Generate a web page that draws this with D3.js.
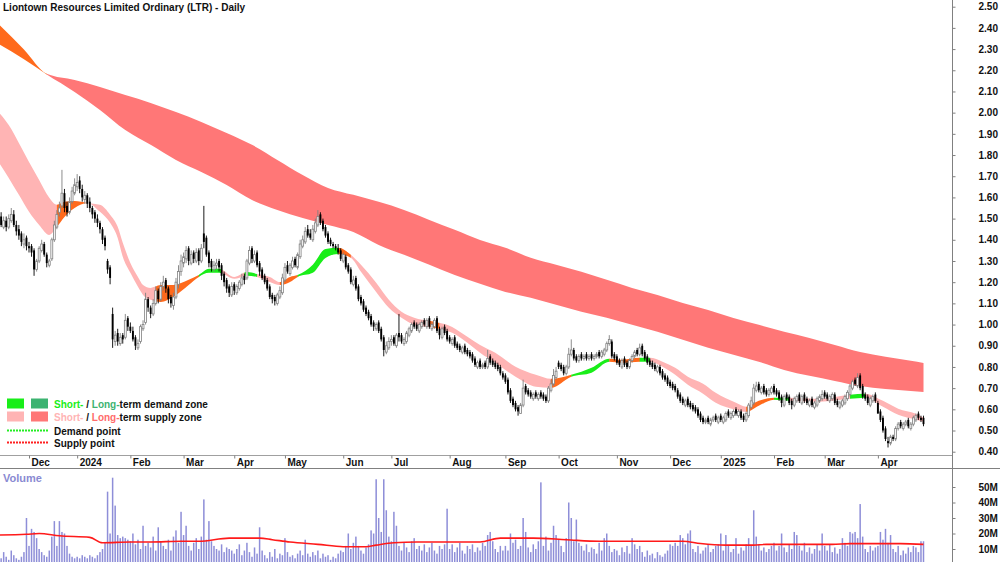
<!DOCTYPE html>
<html>
<head>
<meta charset="utf-8">
<script src="https://cdn.jsdelivr.net/npm/d3@7"></script>
<style>
  body { margin: 0; background: #fff; }
  svg { display: block; font-family: "Liberation Sans", Arial, sans-serif; }
</style>
</head>
<body>
<div id="chart"></div>
<script>
// ---- data ----------------------------------------------------------------
const title = "Liontown Resources Limited Ordinary (LTR) - Daily";
const startDate = "2023-11-15";
const holidays = [
  "2023-12-25", "2023-12-26", "2024-01-01", "2024-01-26", "2024-03-29", "2024-04-01",
  "2024-04-25", "2024-06-10", "2024-12-25", "2024-12-26", "2025-01-01", "2025-01-27",
  "2025-04-18", "2025-04-21", "2025-04-25"
];

// one line per month, Nov 2023 .. Apr 2025
const opens = [
  1.53,1.51,1.46,1.49,1.46,1.49,1.52,1.47,1.45,1.43,1.38,1.41,
  1.37,1.37,1.35,1.26,1.30,1.35,1.38,1.33,1.28,1.31,1.40,1.46,1.53,1.56,1.62,1.56,1.53,1.58,1.62,
  1.65,1.68,1.64,1.59,1.61,1.58,1.55,1.53,1.50,1.48,1.45,1.41,1.30,1.27,1.05,0.92,0.96,0.91,0.95,0.94,1.03,
  0.99,0.97,0.94,0.89,0.92,0.98,1.01,1.12,1.08,1.05,1.10,1.16,1.12,1.18,1.21,1.17,1.13,1.09,1.13,1.19,1.25,
  1.29,1.31,1.36,1.29,1.34,1.30,1.35,1.30,1.43,1.41,1.34,1.30,1.26,1.28,1.30,1.28,1.24,1.21,1.18,1.14,
  1.19,1.15,1.17,1.19,1.23,1.22,1.29,1.36,1.30,1.34,1.29,1.26,1.23,1.21,1.18,1.14,1.13,1.10,1.13,1.15,
  1.21,1.28,1.24,1.27,1.31,1.27,1.32,1.37,1.39,1.45,1.43,1.40,1.44,1.47,1.52,1.49,1.46,1.43,1.40,1.38,1.37,1.36,1.35,
  1.30,1.32,1.28,1.26,1.19,1.22,1.18,1.13,1.11,1.08,1.06,1.04,1.01,0.98,1.01,0.98,0.94,0.87,0.89,
  0.92,0.94,0.90,0.96,0.95,0.91,0.92,0.95,0.97,1.01,1.00,0.97,0.99,1.02,0.99,1.03,0.98,0.99,1.03,0.98,0.94,0.99,0.97,
  0.94,0.91,0.94,0.91,0.90,0.87,0.90,0.88,0.87,0.86,0.84,0.80,0.83,0.80,0.82,0.80,0.85,0.83,0.82,0.81,0.80,0.77,
  0.76,0.74,0.69,0.65,0.63,0.61,0.58,0.62,0.71,0.69,0.68,0.65,0.68,0.65,0.68,0.67,0.66,0.64,0.69,0.72,0.75,
  0.82,0.81,0.80,0.77,0.80,0.86,0.88,0.85,0.83,0.86,0.84,0.86,0.84,0.86,0.84,0.85,0.87,0.85,0.86,0.88,0.91,0.92,0.86,
  0.85,0.83,0.80,0.84,0.82,0.80,0.83,0.85,0.88,0.86,0.90,0.87,0.85,0.83,0.82,0.81,0.78,0.80,0.78,0.76,0.75,
  0.73,0.72,0.71,0.69,0.67,0.65,0.62,0.65,0.63,0.62,0.61,0.60,0.58,0.56,0.54,0.56,0.53,0.55,0.57,0.54,
  0.57,0.54,0.55,0.59,0.56,0.57,0.60,0.57,0.59,0.57,0.55,0.57,0.61,0.63,0.69,0.72,0.68,0.71,0.69,0.67,0.68,
  0.71,0.69,0.68,0.66,0.62,0.67,0.66,0.64,0.62,0.64,0.67,0.63,0.67,0.65,0.62,0.65,0.61,0.62,0.64,0.65,
  0.68,0.67,0.64,0.65,0.67,0.64,0.61,0.62,0.63,0.65,0.67,0.70,0.74,0.71,0.76,0.71,0.67,0.66,0.62,0.64,0.67,
  0.63,0.59,0.56,0.51,0.45,0.44,0.47,0.46,0.51,0.54,0.51,0.53,0.55,0.51,0.53,0.55,0.58,0.56,0.56
];
const highs = [
  1.55,1.53,1.51,1.51,1.52,1.55,1.54,1.49,1.47,1.44,1.43,1.42,
  1.39,1.38,1.36,1.31,1.37,1.40,1.39,1.34,1.31,1.41,1.49,1.54,1.58,1.73,1.64,1.58,1.60,1.65,1.69,
  1.71,1.70,1.66,1.63,1.62,1.60,1.56,1.54,1.52,1.49,1.46,1.42,1.31,1.28,1.08,0.97,0.98,0.96,0.96,1.05,1.04,
  1.01,0.99,0.95,0.93,1.00,1.02,1.15,1.13,1.09,1.12,1.18,1.17,1.20,1.23,1.22,1.18,1.14,1.15,1.22,1.28,1.33,
  1.34,1.37,1.37,1.35,1.35,1.36,1.36,1.38,1.56,1.42,1.35,1.31,1.30,1.31,1.31,1.29,1.25,1.22,1.19,1.20,
  1.20,1.19,1.21,1.24,1.24,1.31,1.37,1.37,1.35,1.35,1.30,1.27,1.24,1.22,1.19,1.15,1.14,1.15,1.18,1.24,
  1.29,1.30,1.29,1.32,1.32,1.34,1.40,1.42,1.46,1.47,1.45,1.47,1.50,1.54,1.53,1.50,1.47,1.44,1.41,1.39,1.38,1.38,1.36,
  1.34,1.33,1.29,1.27,1.23,1.23,1.19,1.14,1.12,1.09,1.07,1.05,1.02,1.01,1.02,0.99,0.95,0.92,0.94,
  0.95,0.95,0.96,1.05,0.96,0.94,0.97,0.99,1.01,1.02,1.01,1.01,1.02,1.03,1.03,1.04,1.01,1.03,1.04,0.99,0.99,1.00,0.98,
  0.95,0.94,0.95,0.92,0.91,0.90,0.91,0.89,0.88,0.87,0.85,0.83,0.84,0.82,0.83,0.88,0.86,0.84,0.83,0.82,0.81,0.78,
  0.77,0.75,0.70,0.66,0.64,0.62,0.63,0.74,0.72,0.70,0.69,0.68,0.69,0.68,0.69,0.68,0.67,0.71,0.74,0.79,0.80,
  0.83,0.82,0.81,0.81,0.89,0.93,0.89,0.86,0.86,0.87,0.86,0.87,0.86,0.87,0.86,0.87,0.88,0.88,0.89,0.92,0.95,0.93,0.87,
  0.86,0.84,0.84,0.85,0.83,0.84,0.86,0.88,0.89,0.91,0.91,0.88,0.86,0.84,0.83,0.82,0.81,0.81,0.79,0.77,0.76,
  0.74,0.73,0.72,0.70,0.68,0.66,0.65,0.66,0.64,0.63,0.62,0.61,0.59,0.57,0.56,0.57,0.56,0.57,0.58,0.57,
  0.58,0.57,0.59,0.60,0.59,0.60,0.61,0.60,0.60,0.58,0.59,0.63,0.66,0.72,0.73,0.73,0.71,0.72,0.70,0.70,0.71,
  0.72,0.70,0.69,0.67,0.67,0.68,0.67,0.65,0.66,0.67,0.68,0.67,0.68,0.66,0.65,0.66,0.64,0.66,0.67,0.69,
  0.69,0.68,0.67,0.68,0.68,0.65,0.64,0.65,0.67,0.69,0.72,0.74,0.75,0.77,0.77,0.72,0.68,0.67,0.66,0.67,0.68,
  0.64,0.60,0.57,0.52,0.47,0.48,0.48,0.52,0.54,0.55,0.54,0.55,0.56,0.54,0.57,0.58,0.59,0.57,0.57
];
const lows = [
  1.48,1.46,1.45,1.44,1.45,1.48,1.46,1.42,1.40,1.37,1.36,1.35,
  1.34,1.32,1.23,1.25,1.29,1.34,1.32,1.27,1.27,1.30,1.39,1.45,1.51,1.55,1.53,1.51,1.52,1.57,1.61,
  1.63,1.62,1.58,1.57,1.55,1.53,1.50,1.48,1.46,1.43,1.38,1.35,1.24,1.19,0.89,0.90,0.90,0.90,0.91,0.93,0.97,
  0.96,0.92,0.88,0.88,0.91,0.97,1.00,1.06,1.03,1.04,1.09,1.10,1.11,1.16,1.15,1.10,1.08,1.07,1.12,1.17,1.23,
  1.27,1.29,1.28,1.28,1.29,1.29,1.28,1.29,1.36,1.32,1.27,1.25,1.25,1.26,1.25,1.21,1.18,1.15,1.13,1.13,
  1.14,1.14,1.16,1.18,1.19,1.21,1.28,1.29,1.29,1.27,1.23,1.21,1.19,1.16,1.12,1.10,1.09,1.09,1.12,1.14,
  1.20,1.24,1.23,1.26,1.27,1.26,1.31,1.36,1.38,1.41,1.40,1.39,1.43,1.46,1.47,1.44,1.41,1.38,1.37,1.36,1.35,1.33,1.30,
  1.29,1.26,1.24,1.19,1.18,1.16,1.11,1.09,1.06,1.04,1.02,0.99,0.97,0.97,0.96,0.92,0.85,0.86,0.88,
  0.90,0.90,0.89,0.92,0.91,0.90,0.91,0.94,0.96,0.98,0.97,0.96,0.98,0.99,0.98,0.98,0.97,0.98,0.96,0.93,0.93,0.95,0.92,
  0.91,0.90,0.89,0.88,0.87,0.86,0.86,0.85,0.84,0.82,0.80,0.79,0.79,0.79,0.79,0.79,0.81,0.80,0.79,0.78,0.76,0.74,
  0.72,0.67,0.63,0.61,0.59,0.57,0.58,0.61,0.67,0.66,0.65,0.64,0.65,0.64,0.65,0.64,0.63,0.63,0.68,0.71,0.74,
  0.79,0.78,0.76,0.76,0.79,0.85,0.83,0.82,0.82,0.83,0.83,0.83,0.83,0.83,0.83,0.84,0.84,0.84,0.85,0.87,0.90,0.84,0.83,
  0.81,0.80,0.79,0.80,0.79,0.79,0.82,0.84,0.85,0.85,0.85,0.83,0.81,0.80,0.79,0.78,0.77,0.76,0.74,0.73,0.71,
  0.70,0.69,0.68,0.65,0.63,0.62,0.61,0.61,0.60,0.59,0.58,0.56,0.54,0.53,0.53,0.53,0.52,0.54,0.54,0.53,
  0.54,0.53,0.54,0.56,0.55,0.56,0.57,0.56,0.55,0.54,0.54,0.56,0.60,0.62,0.68,0.68,0.67,0.67,0.66,0.66,0.67,
  0.67,0.66,0.64,0.61,0.61,0.64,0.62,0.60,0.61,0.63,0.63,0.62,0.63,0.62,0.61,0.61,0.60,0.61,0.63,0.64,
  0.65,0.64,0.63,0.64,0.62,0.61,0.60,0.61,0.62,0.64,0.66,0.69,0.71,0.70,0.69,0.65,0.64,0.62,0.61,0.63,0.63,
  0.58,0.54,0.49,0.45,0.42,0.43,0.45,0.45,0.50,0.51,0.50,0.52,0.51,0.50,0.52,0.54,0.55,0.54,0.52
];
const closes = [
  1.50,1.47,1.49,1.46,1.50,1.52,1.47,1.44,1.42,1.39,1.40,1.37,
  1.36,1.34,1.26,1.30,1.36,1.38,1.33,1.29,1.30,1.40,1.47,1.52,1.55,1.62,1.55,1.53,1.58,1.63,1.66,
  1.67,1.64,1.60,1.61,1.57,1.55,1.52,1.50,1.48,1.45,1.40,1.37,1.26,1.22,0.93,0.95,0.92,0.94,0.93,1.02,0.99,
  0.97,0.93,0.90,0.91,0.99,1.00,1.12,1.08,1.05,1.10,1.16,1.12,1.18,1.20,1.17,1.12,1.10,1.13,1.20,1.25,1.30,
  1.32,1.35,1.30,1.33,1.31,1.34,1.30,1.36,1.39,1.33,1.29,1.27,1.28,1.29,1.27,1.23,1.20,1.17,1.15,1.18,
  1.16,1.18,1.20,1.22,1.21,1.30,1.35,1.31,1.33,1.28,1.25,1.22,1.20,1.17,1.13,1.12,1.11,1.14,1.16,1.22,
  1.27,1.25,1.28,1.30,1.28,1.33,1.38,1.40,1.44,1.42,1.41,1.45,1.48,1.51,1.48,1.45,1.42,1.39,1.38,1.37,1.36,1.34,1.31,
  1.33,1.27,1.25,1.20,1.21,1.17,1.12,1.10,1.07,1.05,1.03,1.00,0.99,1.00,0.97,0.93,0.88,0.90,0.92,
  0.93,0.91,0.95,0.94,0.92,0.93,0.96,0.98,1.00,0.99,0.98,1.00,1.01,1.00,1.02,0.99,1.00,1.02,0.97,0.95,0.98,0.96,0.93,
  0.92,0.93,0.90,0.89,0.88,0.89,0.87,0.86,0.85,0.83,0.81,0.82,0.80,0.81,0.80,0.84,0.82,0.81,0.80,0.79,0.77,0.75,
  0.73,0.68,0.64,0.62,0.60,0.59,0.62,0.70,0.68,0.67,0.66,0.67,0.66,0.67,0.66,0.65,0.64,0.70,0.72,0.76,0.78,
  0.80,0.79,0.77,0.80,0.86,0.88,0.84,0.83,0.85,0.84,0.85,0.84,0.85,0.84,0.85,0.86,0.85,0.87,0.88,0.91,0.93,0.85,0.84,
  0.82,0.81,0.83,0.81,0.80,0.83,0.85,0.87,0.86,0.89,0.86,0.84,0.82,0.81,0.80,0.79,0.80,0.77,0.75,0.74,0.72,
  0.71,0.70,0.69,0.66,0.64,0.63,0.64,0.62,0.61,0.60,0.59,0.57,0.55,0.54,0.55,0.54,0.55,0.56,0.55,0.56,
  0.55,0.56,0.58,0.57,0.58,0.59,0.58,0.59,0.56,0.55,0.58,0.62,0.64,0.70,0.71,0.69,0.70,0.68,0.67,0.69,0.70,
  0.68,0.67,0.65,0.63,0.66,0.65,0.63,0.62,0.65,0.66,0.64,0.66,0.64,0.63,0.64,0.62,0.63,0.65,0.66,0.67,
  0.66,0.65,0.66,0.67,0.63,0.62,0.63,0.64,0.66,0.68,0.71,0.73,0.72,0.75,0.70,0.66,0.65,0.63,0.65,0.66,0.64,
  0.58,0.55,0.50,0.46,0.44,0.47,0.46,0.51,0.53,0.52,0.53,0.54,0.52,0.53,0.56,0.57,0.56,0.55,0.53
];
// volume in millions of shares
const volumes = [
  6,4,8,5,3,9,6,4,3,5,8,30,
  12,23,21,17,10,8,6,5,9,18,28,12,28,21,20,12,7,5,4,
  5,4,6,5,4,6,5,4,6,8,10,14,47,20,56,38,19,17,18,17,16,
  15,20,13,16,10,25,12,14,11,18,9,24,15,12,10,16,9,18,22,14,34,
  19,25,12,9,14,17,10,18,42,16,28,15,12,10,9,13,8,11,10,9,
  7,10,13,6,9,14,8,5,11,7,24,9,6,4,8,5,10,4,7,6,
  17,8,5,6,4,7,9,6,16,7,5,8,6,9,4,7,5,6,3,5,4,7,9,
  8,12,20,10,14,18,12,9,7,11,13,22,20,55,30,21,55,35,18,
  15,34,25,12,9,14,11,8,15,17,10,12,9,13,8,11,14,9,7,12,10,13,36,
  10,13,8,11,14,9,7,12,10,13,8,11,9,14,12,19,21,15,10,8,12,9,
  12,9,20,14,16,10,12,30,21,11,8,13,10,15,53,12,18,9,14,25,19,
  16,12,8,17,40,30,15,29,14,12,9,13,8,11,10,7,14,9,17,20,12,8,10,
  9,6,11,8,12,7,17,13,10,12,8,5,9,6,7,4,8,6,5,7,9,
  13,12,14,12,19,17,13,20,22,10,8,12,7,9,11,13,8,10,12,13,
  20,9,19,12,8,10,17,7,11,9,13,17,12,35,18,13,9,11,8,10,12,
  14,9,12,20,11,8,13,10,21,19,12,9,14,8,11,7,10,13,9,20,
  12,9,13,8,11,7,10,17,14,12,21,20,21,17,39,18,10,8,12,9,11,
  12,21,16,23,14,19,10,8,12,6,9,7,11,8,12,11,8,15,15
];
// average volume line (trading-day index, millions)
const volAvgIdx = [0,11,16,24,36,41,52,60,72,79,91,103,108,115,126,136,145,149,156,165,190,198,211,224,237,270,277,287,298,303,329,336,356,365];
const volAvgVal = [19,19.5,20,18.5,17.5,14,14.5,14.5,15,15,17,17,16,14.5,13,11.5,11.5,12.5,14,14.5,14.5,17,17,16,15,15,13.5,12.5,12.5,13,13,13.5,13.5,13];

// long-term zone edges (trading-day index, price)
const longIdx = [0,10,19,30,40,50,60,70,80,90,100,110,120,130,140,150,160,170,180,190,200,210,220,230,240,250,260,270,280,290,300,310,320,330,340,350,360,365];
const longUpper = [2.418,2.298,2.183,2.154,2.121,2.083,2.046,2.003,1.956,1.904,1.848,1.777,1.706,1.645,1.612,1.579,1.541,1.494,1.447,1.399,1.362,1.315,1.282,1.249,1.211,1.173,1.140,1.102,1.069,1.031,0.999,0.966,0.937,0.904,0.871,0.848,0.829,0.819];
const longLower = [2.324,2.252,2.180,2.098,2.013,1.918,1.848,1.777,1.720,1.659,1.588,1.541,1.503,1.470,1.437,1.376,1.329,1.282,1.234,1.192,1.154,1.126,1.093,1.060,1.032,0.999,0.966,0.928,0.890,0.857,0.824,0.786,0.758,0.734,0.710,0.696,0.687,0.682];
const longZones = [[0, 19, "transition"], [19, 365, "longSupply"]];

// short-term zone edges (trading-day index, price)
const shortIdx = [0,4,8,12,16,20,23,26,30,35,40,44,47,49,52,55,57,60,64,69,75,79,83,87,93,98,102,107,111,115,118,124,129,134,139,143,149,154,159,164,172,179,185,190,196,204,212,218,226,234,241,246,253,257,262,267,272,278,283,291,295,300,306,312,324,336,342,349,355,362,365];
const shortUpper = [2.003,1.942,1.857,1.767,1.682,1.598,1.565,1.579,1.583,1.574,1.565,1.518,1.461,1.386,1.291,1.225,1.187,1.173,1.187,1.187,1.211,1.234,1.263,1.263,1.225,1.248,1.239,1.225,1.201,1.225,1.234,1.282,1.357,1.362,1.329,1.282,1.197,1.117,1.060,1.032,1.013,0.989,0.942,0.904,0.867,0.801,0.763,0.744,0.763,0.796,0.839,0.834,0.843,0.843,0.825,0.796,0.754,0.721,0.678,0.631,0.612,0.640,0.655,0.655,0.650,0.669,0.674,0.640,0.603,0.579,0.560];
const shortLower = [1.767,1.692,1.612,1.532,1.470,1.423,1.461,1.508,1.550,1.574,1.532,1.480,1.409,1.320,1.244,1.178,1.140,1.117,1.107,1.131,1.187,1.225,1.244,1.244,1.216,1.230,1.225,1.201,1.187,1.201,1.225,1.244,1.314,1.333,1.315,1.249,1.154,1.079,1.032,0.999,0.984,0.961,0.914,0.867,0.820,0.754,0.707,0.702,0.754,0.773,0.825,0.820,0.825,0.825,0.801,0.763,0.716,0.674,0.631,0.598,0.588,0.617,0.645,0.640,0.636,0.650,0.655,0.612,0.574,0.551,0.541];
const shortZones = [
  [0,23,"shortSupply"],[23,35,"transition"],[35,62,"shortSupply"],[62,79,"transition"],
  [79,88,"shortDemand"],[88,97,"shortSupply"],[97,102,"shortDemand"],[102,111,"shortSupply"],
  [111,118,"transition"],[118,134,"shortDemand"],[134,139,"transition"],[139,170,"shortSupply"],
  [170,174,"transition"],[174,218,"shortSupply"],[218,226,"transition"],[226,241,"shortDemand"],
  [241,253,"transition"],[253,257,"shortDemand"],[257,295,"shortSupply"],[295,306,"transition"],
  [306,312,"shortDemand"],[312,336,"shortSupply"],[336,342,"shortDemand"],[342,365,"shortSupply"]
];

const priceTicks = [0.40,0.50,0.60,0.70,0.80,0.90,1.00,1.10,1.20,1.30,1.40,1.50,1.60,1.70,1.80,1.90,2.00,2.10,2.20,2.30,2.40,2.50];
const volumeTicks = [10, 20, 30, 40, 50];

const colors = {
  shortDemand: "#19ee19",
  longDemand: "#3cb371",
  shortSupply: "#ffb4b4",
  longSupply: "#ff7777",
  transition: "#ff6a1c"
};

// ---- layout --------------------------------------------------------------
const width = 1000;
const height = 562;
const axisX = 952;
const priceBottom = 455;
const stripBottom = 468;

const svg = d3.select("#chart").append("svg")
  .attr("width", width)
  .attr("height", height);

// trading days from the start date, skipping weekends and holidays
const parseDay = d3.timeParse("%Y-%m-%d");
const fmtDay = d3.timeFormat("%Y-%m-%d");
const holidaySet = new Set(holidays);
const dates = [];
for (let d = parseDay(startDate); dates.length < closes.length; d = d3.timeDay.offset(d, 1)) {
  const wd = d.getDay();
  if (wd === 0 || wd === 6 || holidaySet.has(fmtDay(d))) continue;
  dates.push(d);
}

const candles = closes.map((c, i) => ({
  i, date: dates[i], open: opens[i], high: highs[i], low: lows[i], close: c, volume: volumes[i]
}));

const x = d3.scaleLinear().domain([0, closes.length - 1]).range([-1.4, 923.5]);
const y = d3.scaleLinear().domain([0.4, 2.5]).range([451.7, 6.7]);
const yVol = d3.scaleLinear().domain([0, 50]).range([564.5, 487]);

const defs = svg.append("defs");
defs.append("clipPath").attr("id", "price-clip")
  .append("rect").attr("x", 0).attr("y", 0).attr("width", axisX).attr("height", priceBottom);
defs.append("clipPath").attr("id", "vol-clip")
  .append("rect").attr("x", 0).attr("y", stripBottom + 1).attr("width", axisX).attr("height", height - stripBottom);

const pricePanel = svg.append("g").attr("clip-path", "url(#price-clip)");

// ---- zones -----------------------------------------------------------------
function drawZone(name, idx, upper, lower, zones) {
  const pts = idx.map((d, k) => ({ i: d, u: upper[k], l: lower[k] }));
  const area = d3.area()
    .curve(d3.curveMonotoneX)
    .x(d => x(d.i))
    .y0(d => y(d.l))
    .y1(d => y(d.u));
  const g = pricePanel.append("g").attr("class", name);
  zones.forEach(([from, to, kind], k) => {
    const id = `${name}-clip-${k}`;
    defs.append("clipPath").attr("id", id)
      .append("rect")
      .attr("x", x(from) - (from === 0 ? 5 : 0))
      .attr("y", 0)
      .attr("width", x(to) - x(from) + (from === 0 ? 5 : 0) + (to === closes.length - 1 ? 1.5 : 0.3))
      .attr("height", priceBottom);
    g.append("path")
      .attr("clip-path", `url(#${id})`)
      .attr("d", area(pts))
      .attr("fill", colors[kind]);
  });
}

drawZone("long-zone", longIdx, longUpper, longLower, longZones);
drawZone("short-zone", shortIdx, shortUpper, shortLower, shortZones);

// ---- candles ---------------------------------------------------------------
const candleG = pricePanel.append("g").attr("class", "candles");
const bodyW = 1.9;

candleG.selectAll("line.wick")
  .data(candles)
  .enter()
  .append("line")
  .attr("class", "wick")
  .attr("x1", d => x(d.i))
  .attr("x2", d => x(d.i))
  .attr("y1", d => y(d.high))
  .attr("y2", d => y(d.low))
  .attr("stroke", d => (d.close >= d.open ? "#808080" : "#000"))
  .attr("stroke-width", 0.9);

candleG.selectAll("rect.body")
  .data(candles)
  .enter()
  .append("rect")
  .attr("class", "body")
  .attr("x", d => x(d.i) - bodyW / 2)
  .attr("width", bodyW)
  .attr("y", d => y(Math.max(d.open, d.close)))
  .attr("height", d => Math.max(1, Math.abs(y(d.open) - y(d.close))))
  .attr("fill", d => (d.close >= d.open ? "#fff" : "#000"))
  .attr("stroke", d => (d.close >= d.open ? "#808080" : "none"))
  .attr("stroke-width", 0.8);

// ---- volume ------------------------------------------------------------------
const volPanel = svg.append("g").attr("clip-path", "url(#vol-clip)");

volPanel.selectAll("rect")
  .data(candles)
  .enter()
  .append("rect")
  .attr("x", d => x(d.i) - 0.75)
  .attr("width", 1.5)
  .attr("y", d => yVol(d.volume))
  .attr("height", d => yVol(0) - yVol(d.volume))
  .attr("fill", "#8e8ed8");

const volAvgLine = d3.line()
  .curve(d3.curveMonotoneX)
  .x(d => x(d[0]))
  .y(d => yVol(d[1]));

volPanel.append("path")
  .attr("d", volAvgLine(volAvgIdx.map((d, k) => [d, volAvgVal[k]])))
  .attr("fill", "none")
  .attr("stroke", "#ff1a1a")
  .attr("stroke-width", 1.6);

svg.append("text")
  .attr("x", 3)
  .attr("y", 482)
  .attr("fill", "#8a8ad2")
  .attr("font-size", "11px")
  .attr("font-weight", "bold")
  .text("Volume");

// ---- frame & axes --------------------------------------------------------------
svg.append("line")
  .attr("x1", 0).attr("x2", axisX)
  .attr("y1", priceBottom + 0.5).attr("y2", priceBottom + 0.5)
  .attr("stroke", "#a0a0a0");
svg.append("line")
  .attr("x1", 0).attr("x2", width)
  .attr("y1", stripBottom + 0.5).attr("y2", stripBottom + 0.5)
  .attr("stroke", "#808080");
svg.append("line")
  .attr("x1", axisX + 0.5).attr("x2", axisX + 0.5)
  .attr("y1", 0).attr("y2", height)
  .attr("stroke", "#808080");

const priceAxis = svg.append("g")
  .attr("transform", `translate(${axisX + 0.5},0)`)
  .call(d3.axisRight(y).tickValues(priceTicks).tickFormat(d3.format(".2f")).tickSize(3).tickPadding(23));

const volAxis = svg.append("g")
  .attr("transform", `translate(${axisX + 0.5},0)`)
  .call(d3.axisRight(yVol).tickValues(volumeTicks).tickFormat(d => d + "M").tickSize(3).tickPadding(23));

[priceAxis, volAxis].forEach(a => {
  a.select(".domain").remove();
  a.selectAll(".tick line").attr("stroke", "#808080");
  a.selectAll(".tick text")
    .attr("fill", "#111")
    .attr("font-size", "10px")
    .attr("font-weight", "bold")
    .attr("font-family", '"Liberation Sans", Arial, sans-serif');
});

// month ticks on the date strip
const monthStarts = candles.filter((d, i) => i > 0 && d.date.getMonth() !== dates[i - 1].getMonth()).map(d => d.i);
const monthLabel = i => (dates[i].getMonth() === 0 ? d3.timeFormat("%Y")(dates[i]) : d3.timeFormat("%b")(dates[i]));

const dateAxis = svg.append("g")
  .attr("transform", `translate(0,${priceBottom + 0.5})`)
  .call(d3.axisBottom(x).tickValues(monthStarts).tickFormat(monthLabel).tickSize(3));
dateAxis.select(".domain").remove();
dateAxis.selectAll(".tick line").attr("stroke", "#808080");
dateAxis.selectAll(".tick text")
  .attr("text-anchor", "start")
  .attr("x", 2)
  .attr("y", 0)
  .attr("dy", "10.5px")
  .attr("fill", "#111")
  .attr("font-size", "10px")
  .attr("font-weight", "bold")
  .attr("font-family", '"Liberation Sans", Arial, sans-serif');

// ---- title ---------------------------------------------------------------------
svg.append("text")
  .attr("x", 3)
  .attr("y", 11)
  .attr("font-size", "10px")
  .attr("font-weight", "bold")
  .attr("fill", "#111")
  .text(title);

// ---- legend --------------------------------------------------------------------
const legend = svg.append("g").attr("font-size", "10px").attr("font-weight", "bold");

const legendRows = [
  { y: 398.5, fills: [colors.shortDemand, colors.longDemand], parts: [["Short-", colors.shortDemand], [" / ", "#111"], ["Long-", colors.longDemand], ["term demand zone", "#111"]] },
  { y: 411.5, fills: [colors.shortSupply, colors.longSupply], parts: [["Short-", colors.shortSupply], [" / ", "#111"], ["Long-", "#ff6b6b"], ["term supply zone", "#111"]] }
];

legendRows.forEach(row => {
  legend.selectAll(null)
    .data(row.fills)
    .enter()
    .append("rect")
    .attr("x", (d, k) => 7 + k * 24)
    .attr("y", row.y)
    .attr("width", 17)
    .attr("height", 10)
    .attr("fill", d => d);
  const t = legend.append("text").attr("x", 54).attr("y", row.y + 9);
  row.parts.forEach(([s, c]) => t.append("tspan").attr("fill", c).text(s));
});

const legendLines = [
  { y: 430.5, color: "#22ee22", label: "Demand point" },
  { y: 442.5, color: "#ff2020", label: "Supply point" }
];
legendLines.forEach(row => {
  legend.append("line")
    .attr("x1", 7).attr("x2", 49)
    .attr("y1", row.y).attr("y2", row.y)
    .attr("stroke", row.color)
    .attr("stroke-width", 2)
    .attr("stroke-dasharray", "2,1");
  legend.append("text")
    .attr("x", 54)
    .attr("y", row.y + 4)
    .attr("fill", "#111")
    .text(row.label);
});
</script>
</body>
</html>
